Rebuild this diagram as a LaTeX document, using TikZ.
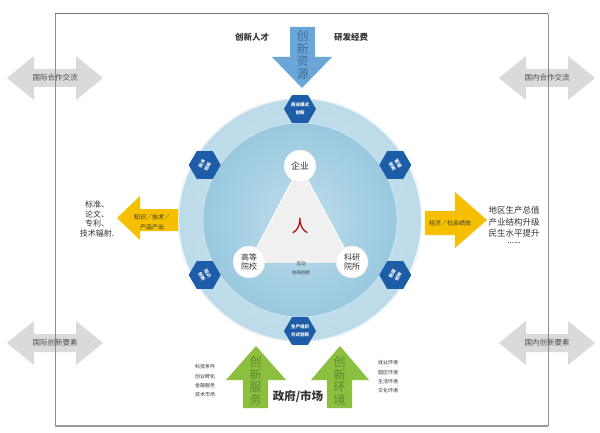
\documentclass[tikz,border=0pt]{standalone}
\usepackage{fontspec}
\setmainfont{Noto Sans CJK SC}
\usetikzlibrary{shapes.geometric}
\newcommand{\fz}[2]{\fontsize{#1}{#2}\selectfont}
\definecolor{hexblue}{HTML}{1D5CA6}
\definecolor{topblue}{HTML}{6AA6D8}
\definecolor{topblueT}{HTML}{3F6E99}
\definecolor{yel}{HTML}{F6C000}
\definecolor{grn}{HTML}{8CBF3F}
\definecolor{grnT}{HTML}{5E8A2C}
\definecolor{grayarr}{HTML}{DADADA}
\definecolor{ringA}{HTML}{D3E7F1}
\definecolor{ringB}{HTML}{BCDAE9}
\definecolor{innA}{HTML}{C0DEEC}
\definecolor{innB}{HTML}{98C8DF}
\definecolor{txt}{HTML}{333333}
\tikzset{
  hexbox/.style={regular polygon, regular polygon sides=6, minimum size=32pt, inner sep=0pt,
    fill=hexblue, text=white, font=\fz{4.5}{6.5}\bfseries, align=center},
  wcirc/.style={circle, fill=white, draw=black!10, minimum size=32pt, inner sep=0pt, align=center, text=txt},
  lbl/.style={text=txt, align=center, inner sep=0pt},
  grayarrow/.style={fill=grayarr},
}
\begin{document}
\begin{tikzpicture}[x=1pt,y=-1pt]
\useasboundingbox (0,0) rectangle (600,433);
\fill[white] (0,0) rectangle (600,433);

% gray double arrows
\foreach \cx/\cy in {55/78, 55/343, 547/78, 547/343}{
  \begin{scope}[shift={(\cx,\cy)}]
  \fill[grayarrow] (-48,0) -- (-21,-22) -- (-21,-9) -- (21,-9) -- (21,-22) -- (48,0)
     -- (21,22) -- (21,9) -- (-21,9) -- (-21,22) -- cycle;
  \end{scope}
}
% frame
\draw[black!55, line width=1pt] (55,14) -- (548,14);
\draw[black!45, line width=1pt] (55,14) -- (55,426);
\draw[black!45, line width=1pt] (548,14) -- (548,426);
\draw[black!40, line width=2pt] (55,426) -- (548,426);

\node[lbl, font=\fz{7.5}{9}, text=black!70] (gjhz) at (55,78) {国际合作交流};
\node[lbl, font=\fz{7.5}{9}, text=black!70] (gjys) at (55,343) {国际创新要素};
\node[lbl, font=\fz{7.5}{9}, text=black!70] (gnhz) at (547,78) {国内合作交流};
\node[lbl, font=\fz{7.5}{9}, text=black!70] (gnys) at (547,343) {国内创新要素};

% circles
\shade[inner color=ringA, outer color=ringB] (300,220) circle (122);
\draw[white!60!ringA, line width=1.2pt] (300,220) circle (121.4);
\shade[inner color=innA, outer color=innB] (300,220) circle (97);
\draw[white!50!innB, line width=0.8pt] (300,220) circle (97);

% triangle
\coordinate (v1) at (300,166);
\coordinate (v2) at (249,262);
\coordinate (v3) at (352,262);
\fill[black!6, draw=white!60!black!4, line width=1pt] (v1) -- (v2) -- (v3) -- cycle;
\node[lbl, font=\fz{17}{18}, text=red!70!black] (ren) at (300,226) {人};
\node[wcirc, font=\fz{9}{10}] (qiye) at (v1) {企业};
\node[wcirc, font=\fz{8}{8.5}] (gaodeng) at (v2) {高等\\院校};
\node[wcirc, font=\fz{8}{8.5}] (keyan) at (v3) {科研\\院所};
\node[lbl, font=\fz{4.5}{5}] (hudong) at (301,264) {互动};
\node[lbl, font=\fz{4.5}{5}] (xietong) at (301,273) {协同创新};

% hexagons
\node[hexbox] (h1) at (300,109) {商业模式\\[1pt]创新};
\node[hexbox, rotate=60] (h2) at ({300+110*cos(150)},{220-110*sin(150)}) {技术\\创新};
\node[hexbox, rotate=-60] (h3) at ({300+110*cos(30)},{220-110*sin(30)}) {管理\\创新};
\node[hexbox, rotate=-60] (h4) at ({300+110*cos(210)},{220-110*sin(210)}) {知识\\创新};
\node[hexbox, rotate=60] (h5) at ({300+110*cos(330)},{220-110*sin(330)}) {制度\\创新};
\node[hexbox] (h6) at (300,331) {生产组织\\[1pt]方式创新};

% top blue arrow
\fill[topblue] (290,27) -- (315,27) -- (315,57) -- (332,57) -- (302,88) -- (272,57) -- (290,57) -- cycle;
\node[lbl, font=\fz{12}{12.5}, text=topblueT] (cxzy) at (302.5,55) {创\\新\\资\\源};
\node[lbl, font=\fz{8.5}{10}\bfseries] (rc) at (252,37) {创新人才};
\node[lbl, font=\fz{8.5}{10}\bfseries] (jf) at (351,37) {研发经费};

% left yellow arrow
\fill[yel] (117,218) -- (140,196) -- (140,209) -- (178,209) -- (178,231) -- (140,231) -- (140,240) -- cycle;
\node[lbl, font=\fz{6}{9.5}] (zs) at (152,222) {知识／技术／\\产品产出};
\node[lbl, font=\fz{8}{9.5}] (bz) at (97,219) {标准、\\论文、\\专利、\\技术辐射.};

% right yellow arrow
\fill[yel] (425,211) -- (455,211) -- (455,192) -- (487,220) -- (455,248) -- (455,235) -- (425,235) -- cycle;
\node[lbl, font=\fz{6}{7}] (jj) at (450,223) {经济／社会绩效};
\node[lbl, font=\fz{8.5}{11.5}] (dq) at (514,222) {地区生产总值\\产业结构升级\\民生水平提升};
\node[lbl, font=\fz{8}{9}] (dots) at (514,243) {......};

% green arrows
\fill[grn] (256,346) -- (286,380) -- (268,380) -- (268,408) -- (243,408) -- (243,380) -- (226,380) -- cycle;
\fill[grn] (340,346) -- (369,380) -- (352,380) -- (352,408) -- (327,408) -- (327,380) -- (311,380) -- cycle;
\node[lbl, font=\fz{12}{12.5}, text=grnT] (cxfw) at (255.5,381) {创\\新\\服\\务};
\node[lbl, font=\fz{12}{12.5}, text=grnT] (cxhj) at (339.5,381) {创\\新\\环\\境};
\node[lbl, font=\fz{11.5}{13}\bfseries] (zf) at (298,397) {政府/市场};
\node[lbl, font=\fz{5}{9.3}] (kj) at (205,381) {科技条件\\创业孵化\\金融服务\\技术市场};
\node[lbl, font=\fz{5}{9.3}] (jy) at (388,377) {就业环境\\园区环境\\生活环境\\文化环境};
\end{tikzpicture}
\end{document}
